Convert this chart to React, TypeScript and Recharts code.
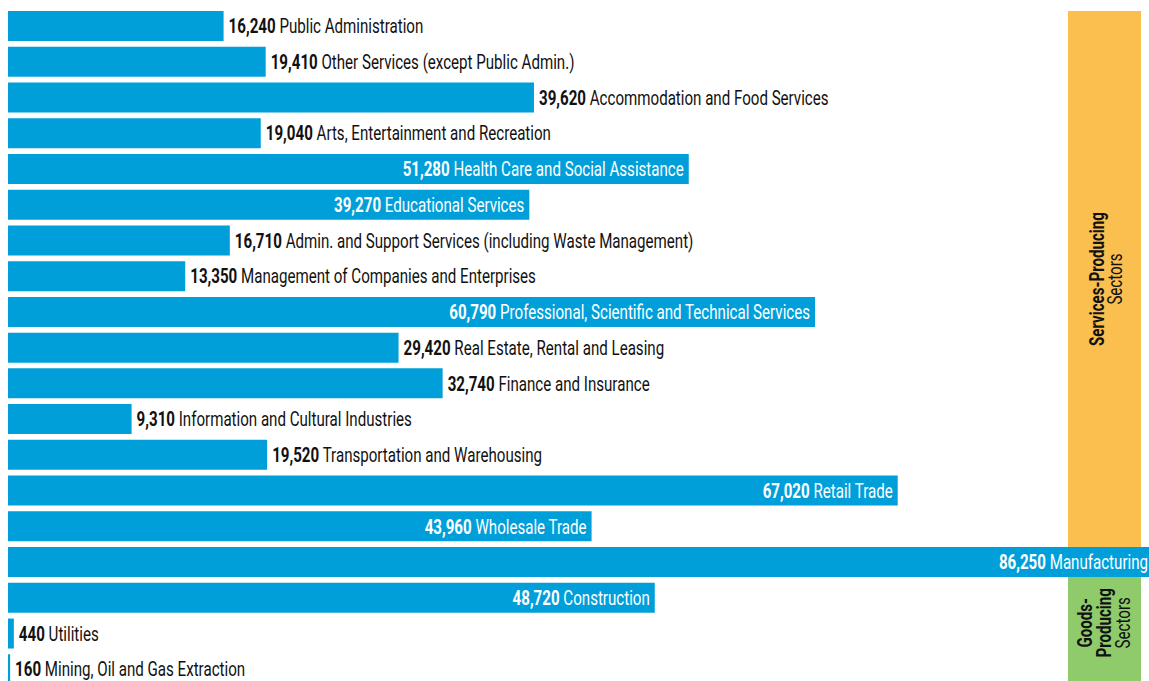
import { Bar, BarChart, LabelList, ReferenceArea, XAxis, YAxis } from "recharts";

const industries = [
  "Public Administration",
  "Other Services (except Public Admin.)",
  "Accommodation and Food Services",
  "Arts, Entertainment and Recreation",
  "Health Care and Social Assistance",
  "Educational Services",
  "Admin. and Support Services (including Waste Management)",
  "Management of Companies and Enterprises",
  "Professional, Scientific and Technical Services",
  "Real Estate, Rental and Leasing",
  "Finance and Insurance",
  "Information and Cultural Industries",
  "Transportation and Warehousing",
  "Retail Trade",
  "Wholesale Trade",
  "Manufacturing",
  "Construction",
  "Utilities",
  "Mining, Oil and Gas Extraction",
];

const employment = [
  16240, 19410, 39620, 19040, 51280, 39270, 16710, 13350, 60790, 29420, 32740,
  9310, 19520, 67020, 43960, 86250, 48720, 440, 160,
];

// labels drawn in white inside the bar
const insideLabels = [
  "Health Care and Social Assistance",
  "Educational Services",
  "Professional, Scientific and Technical Services",
  "Retail Trade",
  "Wholesale Trade",
  "Manufacturing",
  "Construction",
];

const data = industries.map((name, i) => ({ name, value: employment[i] }));

const BLUE = "#009FDA";
const ORANGE = "#FBBF4F";
const GREEN = "#8FCB6B";
const FONT = "Roboto, 'Noto Sans', sans-serif";
const SQUEEZE = 0.755; // fake a condensed face

const renderLabel = (props: any) => {
  const { x, y, width, height, value, index } = props;
  const name = industries[index];
  const inside = insideLabels.includes(name);
  const tx = inside ? x + width - 5 : x + width + 5;
  const cy = y + height / 2;
  return (
    <g transform={`translate(${tx},${cy}) scale(${SQUEEZE},1)`}>
      <text
        x={0}
        y={0}
        dy="0.36em"
        textAnchor={inside ? "end" : "start"}
        fill={inside ? "#ffffff" : "#111111"}
        fontFamily={FONT}
        fontSize={20}
      >
        <tspan fontWeight="bold">{Number(value).toLocaleString("en-US")}</tspan>
        <tspan> {name}</tspan>
      </text>
    </g>
  );
};

const sideText = (cx: number, cy: number, label: string, bold: boolean) => (
  <text
    transform={`translate(${cx},${cy}) rotate(-90) scale(${SQUEEZE},1)`}
    textAnchor="middle"
    dy="0.36em"
    fontFamily={FONT}
    fontSize={20}
    fontWeight={bold ? "bold" : "normal"}
    fill="#111"
  >
    {label}
  </text>
);

const servicesBox = (props: any) => {
  const { x, y, width, height } = props;
  const bx = x + width - 85;
  const cx = bx + 36.5;
  const top = y + 3;
  const cy = top + height / 2;
  return (
    <g>
      <rect x={bx} y={top} width={73} height={height} fill={ORANGE} />
      {sideText(cx - 8, cy, "Services-Producing", true)}
      {sideText(cx + 10, cy, "Sectors", false)}
    </g>
  );
};

const goodsBox = (props: any) => {
  const { x, y, width, height } = props;
  const bx = x + width - 85;
  const cx = bx + 36.5;
  const top = y - 3;
  const cy = top + 46;
  return (
    <g>
      <rect x={bx} y={top} width={73} height={height + 3} fill={GREEN} />
      {sideText(cx - 20, cy, "Goods-", true)}
      {sideText(cx - 1, cy, "Producing", true)}
      {sideText(cx + 18, cy, "Sectors", false)}
    </g>
  );
};

export default function App() {
  return (
    <div
      style={{
        position: "absolute",
        top: 8,
        left: 8,
        width: 1141,
        height: 673,
        overflow: "hidden",
        background: "#fff",
      }}
    >
      <BarChart
        width={1145}
        height={679}
        layout="vertical"
        data={data}
        margin={{ top: 0, right: 0, bottom: 0, left: 0 }}
      >
        <XAxis type="number" domain={[0, 86250]} hide />
        <YAxis type="category" dataKey="name" hide />
        <ReferenceArea
          y1="Public Administration"
          y2="Wholesale Trade"
          shape={servicesBox}
          ifOverflow="visible"
        />
        <ReferenceArea
          y1="Construction"
          y2="Mining, Oil and Gas Extraction"
          shape={goodsBox}
          ifOverflow="visible"
        />
        <Bar dataKey="value" fill={BLUE} barSize={30} isAnimationActive={false}>
          <LabelList dataKey="value" content={renderLabel} />
        </Bar>
      </BarChart>
    </div>
  );
}
